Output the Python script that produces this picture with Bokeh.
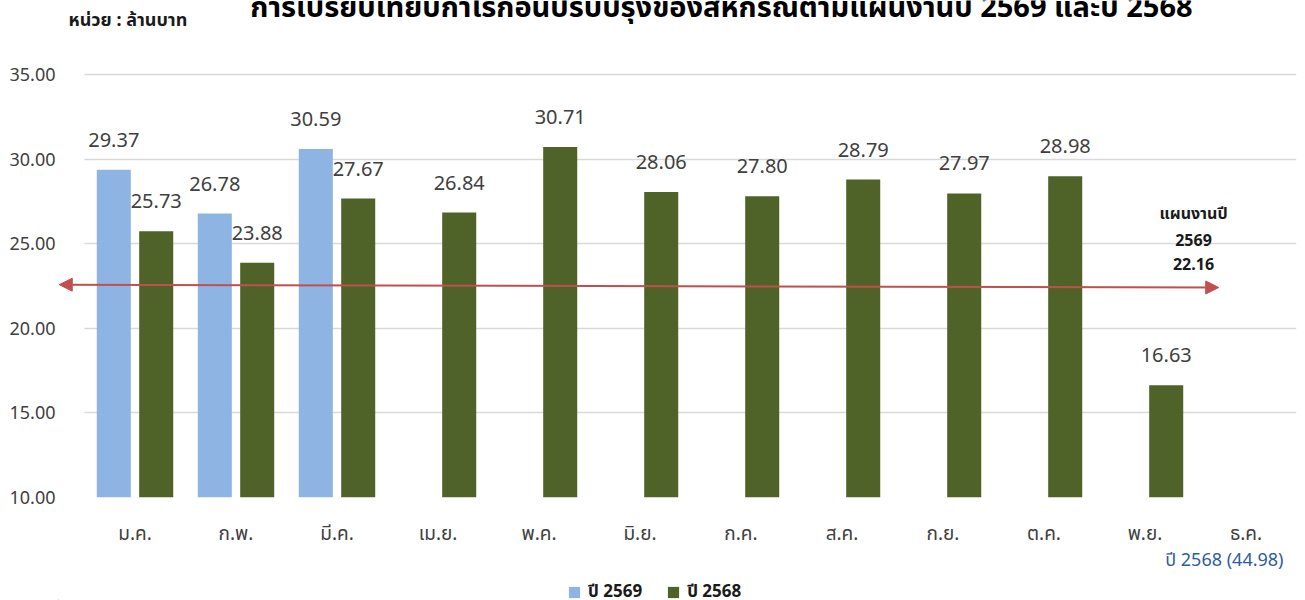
from bokeh.plotting import figure
from bokeh.layouts import column
from bokeh.models import (Range1d, ColumnDataSource, Label, Arrow, NormalHead,
                          Legend, LegendItem, FixedTicker, NumeralTickFormatter)
from bokeh.core.properties import value
from bokeh.embed import file_html
from bokeh.resources import INLINE

# ---------------- data ----------------
months = ["ม.ค.", "ก.พ.", "มี.ค.", "เม.ย.", "พ.ค.", "มิ.ย.", "ก.ค.", "ส.ค.", "ก.ย.", "ต.ค.", "พ.ย.", "ธ.ค."]
profit_2569 = [29.37, 26.78, 30.59]
profit_2568 = [25.73, 23.88, 27.67, 26.84, 30.71, 28.06, 27.80, 28.79, 27.97, 28.98, 16.63]
dec_2568 = 44.98
plan_2569 = 22.16
plan_arrow_x = [-0.25, 11.23]      # arrow ends, in month slots
plan_arrow_y = [22.58, 22.41]
y_ticks = [10, 15, 20, 25, 30, 35]
series_names = ["ปี 2569", "ปี 2568"]
title_text = "การเปรียบเทียบกำไรก่อนปรับปรุงของสหกรณ์ตามแผนงานปี 2569 และปี 2568"
unit_text = "หน่วย : ล้านบาท"
plan_title = "แผนงานปี"
plan_year = "2569"

# ---------------- style / layout ----------------
BLUE = "#8EB4E3"
GREEN = "#4F6228"
RED = "#C0504D"
TXT = "#404040"
FONT = "'Noto Sans', Tahoma, 'Noto Sans Thai', sans-serif"

W_FIG, H_TOTAL = 1305, 600
H_MAIN = 548
H_FOOT = H_TOTAL - H_MAIN
FRAME_L, FRAME_R = 58, 1296          # frame edges (px)
SLOT0_L = 84                          # left edge of the first month slot (px)
Y_TOP_PX, Y_BOT_PX = 74, 497          # pixel rows of 35 and 10
Y0, Y1 = 10, 35
PX_PER_Y = (Y_BOT_PX - Y_TOP_PX) / (Y1 - Y0)
n_slots = len(months)
PX_PER_X = (FRAME_R - SLOT0_L) / n_slots
x_start = -(SLOT0_L - FRAME_L) / PX_PER_X
y_end = Y1 + Y_TOP_PX / PX_PER_Y      # frame reaches the top of the canvas

W = 0.337
OFF = 0.21

src69 = ColumnDataSource(dict(
    x=[i + 0.5 - OFF for i in range(len(profit_2569))], val=profit_2569,
    label=[f"{v:.2f}" for v in profit_2569], base=[Y0] * len(profit_2569)))
src68 = ColumnDataSource(dict(
    x=[i + 0.5 + OFF for i in range(len(profit_2568))], val=profit_2568,
    label=[f"{v:.2f}" for v in profit_2568], base=[Y0] * len(profit_2568)))

p = figure(x_range=Range1d(x_start, n_slots), y_range=Range1d(Y0, y_end),
           width=W_FIG, height=H_MAIN, output_backend="svg", toolbar_location=None,
           min_border_left=FRAME_L, min_border_right=W_FIG - FRAME_R,
           min_border_top=0, min_border_bottom=H_MAIN - Y_BOT_PX)

p.outline_line_color = None
p.background_fill_color = "white"
p.border_fill_color = "white"
p.xgrid.grid_line_color = None
p.ygrid.grid_line_color = "#D9D9D9"
p.ygrid.grid_line_width = 1.5
if "cross_bounds" in p.ygrid[0].properties():
    p.ygrid[0].cross_bounds = (0, n_slots)

p.yaxis.ticker = FixedTicker(ticks=y_ticks)
p.yaxis.formatter = NumeralTickFormatter(format="0.00")
p.xaxis.ticker = FixedTicker(ticks=[i + 0.5 for i in range(n_slots)])
p.xaxis.major_label_overrides = {i + 0.5: m for i, m in enumerate(months)}
for ax in (p.xaxis, p.yaxis):
    ax.axis_line_color = None
    ax.major_tick_line_color = None
    ax.minor_tick_line_color = None
    ax.major_label_text_color = TXT
    ax.major_label_text_font = FONT
p.yaxis.major_label_text_font_size = "18px"
p.yaxis.major_tick_out = 0
p.yaxis.major_label_standoff = 3
p.xaxis.major_label_text_font_size = "19px"
p.xaxis.major_label_standoff = 16

r69 = p.vbar(x="x", top="val", bottom="base", width=W, source=src69,
             fill_color=BLUE, line_color=None)
r68 = p.vbar(x="x", top="val", bottom="base", width=W, source=src68,
             fill_color=GREEN, line_color=None)

for src in (src69, src68):
    p.text(x="x", y="val", text="label", source=src,
           text_align="center", text_baseline="alphabetic", y_offset=-30,
           text_font=value(FONT), text_font_size=value("20px"), text_color=TXT)

# plan arrow
p.add_layout(Arrow(start=NormalHead(size=13, fill_color=RED, line_color=RED),
                   end=NormalHead(size=13, fill_color=RED, line_color=RED),
                   x_start=plan_arrow_x[0], y_start=plan_arrow_y[0],
                   x_end=plan_arrow_x[1], y_end=plan_arrow_y[1],
                   line_color=RED, line_width=2))

# plan text (screen units relative to frame bottom-left)
for txt, yy in ((plan_title, 285), (plan_year, 258), (f"{plan_2569:.2f}", 234)):
    p.add_layout(Label(x=1193 - FRAME_L, y=yy, x_units="screen", y_units="screen", text=txt,
                       text_align="center", text_baseline="alphabetic",
                       text_font=FONT, text_font_size="16px", text_font_style="bold",
                       text_color="#1a1a1a"))

# title (partly above the canvas, as in the reference) and unit
p.add_layout(Label(x=721 - FRAME_L, y=492, x_units="screen", y_units="screen",
                   text=title_text, text_align="center", text_baseline="alphabetic",
                   text_font=FONT, text_font_size="29px", text_font_style="bold",
                   text_color="#000000"))
p.add_layout(Label(x=68 - FRAME_L, y=479, x_units="screen", y_units="screen",
                   text=unit_text, text_align="left", text_baseline="alphabetic",
                   text_font=FONT, text_font_size="18px", text_font_style="bold",
                   text_color="#1a1a1a"))

# ---------------- footer: December note and legend ----------------
# the column aligns the footer's frame with the main frame (FRAME_L..FRAME_R),
# so its x range is expressed in page pixels
f = figure(width=W_FIG, height=H_FOOT, x_range=Range1d(FRAME_L, FRAME_R),
           y_range=Range1d(0, H_FOOT),
           output_backend="svg", toolbar_location=None,
           min_border_left=FRAME_L, min_border_right=W_FIG - FRAME_R,
           min_border_top=0, min_border_bottom=0,
           x_axis_type=None, y_axis_type=None)
f.outline_line_color = None
f.xgrid.visible = False
f.ygrid.visible = False

f.add_layout(Label(x=1283, y=42, text=f"{series_names[1]} ({dec_2568:.2f})",
                   text_align="right", text_baseline="alphabetic",
                   text_font=FONT, text_font_size="18px", text_color="#2E5E9E"))

# legend proxies (kept outside the footer's visible range)
k69 = f.vbar(x=[-100], top=[1], width=1, fill_color=BLUE, line_color=None)
k68 = f.vbar(x=[-100], top=[1], width=1, fill_color=GREEN, line_color=None)
legend = Legend(items=[LegendItem(label=series_names[0], renderers=[k69]),
                       LegendItem(label=series_names[1], renderers=[k68])],
                orientation="horizontal", location=(567 - FRAME_L, -5),
                glyph_width=14, glyph_height=14, label_height=14, label_standoff=7,
                spacing=24, padding=0, margin=0, border_line_color=None,
                background_fill_alpha=0,
                label_text_font=FONT, label_text_font_size="17px",
                label_text_font_style="bold", label_text_color="#1a1a1a")
f.add_layout(legend, "center")

layout = column(p, f, spacing=0)
open("out.html", "w").write(file_html(layout, INLINE))
